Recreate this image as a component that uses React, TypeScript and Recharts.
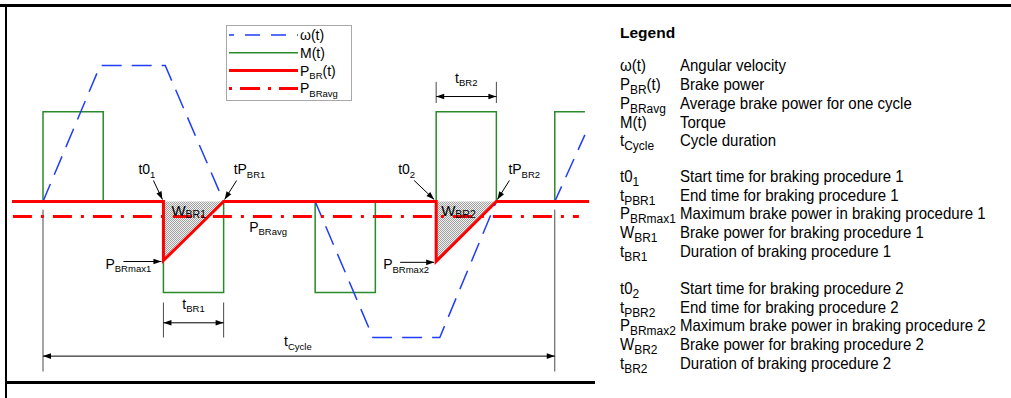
import React from 'react'
import { ComposedChart, Line, Area, XAxis, YAxis, ReferenceLine, ReferenceDot, Legend } from 'recharts'

// time axis: 0 = start of cycle, 85 = end of cycle (arbitrary units)
// value axis: 1 = peak angular velocity
const omega = [
  { t: -5.15, v: 0 }, { t: 0, v: 0 }, { t: 9.5, v: 1 }, { t: 20.3, v: 1 }, { t: 30, v: 0 },
  { t: 45.2, v: 0 }, { t: 54.8, v: -1 }, { t: 65.9, v: -1 }, { t: 75.3, v: 0 },
  { t: 85, v: 0 }, { t: 90, v: 0.49 },
]
const torque = [
  { t: -5.15, v: 0 }, { t: 0, v: 0 }, { t: 0, v: 0.66 }, { t: 10, v: 0.66 }, { t: 10, v: 0 },
  { t: 20, v: 0 }, { t: 20, v: -0.67 }, { t: 30, v: -0.67 }, { t: 30, v: 0 },
  { t: 45.2, v: 0 }, { t: 45.2, v: -0.67 }, { t: 55.2, v: -0.67 }, { t: 55.2, v: 0 },
  { t: 65.3, v: 0 }, { t: 65.3, v: 0.66 }, { t: 75.3, v: 0.66 }, { t: 75.3, v: 0 },
  { t: 85, v: 0 }, { t: 85, v: 0.66 }, { t: 90, v: 0.66 },
]
const brakePower = [
  { t: -5.15, v: 0 }, { t: 20, v: 0 }, { t: 20, v: -0.434 }, { t: 30, v: 0 },
  { t: 65.3, v: 0 }, { t: 65.3, v: -0.44 }, { t: 75.3, v: 0 }, { t: 90.7, v: 0 },
]
const brakeAvg = [{ t: -5, v: -0.11 }, { t: 89, v: -0.11 }]
const brakeWork1 = [{ t: 20, v: 0 }, { t: 20, v: -0.434 }, { t: 30, v: 0 }]
const brakeWork2 = [{ t: 65.3, v: 0 }, { t: 65.3, v: -0.44 }, { t: 75.3, v: 0 }]

const cycleStart = 0
const cycleEnd = 85
const brakeStart = [20, 65.3]
const brakeEnd = [30, 75.3]
const brakePeak = [-0.434, -0.44]
const avgLevel = -0.11

const FONT = 'Liberation Sans, Arial, Helvetica, sans-serif'

type LabelParts = { main: string; sub?: string; tail?: string }

const legendItems = [
  { label: { main: 'ω(t)' }, color: '#1f3cff', width: 1.5, dash: '15 11', offset: 10 },
  { label: { main: 'M(t)' }, color: '#2a8a2a', width: 1.5, dash: undefined, offset: 0 },
  { label: { main: 'P', sub: 'BR', tail: '(t)' }, color: '#ff0000', width: 3, dash: undefined, offset: 0 },
  { label: { main: 'P', sub: 'BRavg' }, color: '#ff0000', width: 3, dash: '20 8 3 8', offset: 28 },
]

const glossary: (LabelParts & { desc: string })[][] = [
  [
    { main: 'ω(t)', desc: 'Angular velocity' },
    { main: 'P', sub: 'BR', tail: '(t)', desc: 'Brake power' },
    { main: 'P', sub: 'BRavg', desc: 'Average brake power for one cycle' },
    { main: 'M(t)', desc: 'Torque' },
    { main: 't', sub: 'Cycle', desc: 'Cycle duration' },
  ],
  [
    { main: 't0', sub: '1', desc: 'Start time for braking procedure 1' },
    { main: 't', sub: 'PBR1', desc: 'End time for braking procedure 1' },
    { main: 'P', sub: 'BRmax1', desc: 'Maximum brake power in braking procedure 1' },
    { main: 'W', sub: 'BR1', desc: 'Brake power for braking procedure 1' },
    { main: 't', sub: 'BR1', desc: 'Duration of braking procedure 1' },
  ],
  [
    { main: 't0', sub: '2', desc: 'Start time for braking procedure 2' },
    { main: 't', sub: 'PBR2', desc: 'End time for braking procedure 2' },
    { main: 'P', sub: 'BRmax2', desc: 'Maximum brake power in braking procedure 2' },
    { main: 'W', sub: 'BR2', desc: 'Brake power for braking procedure 2' },
    { main: 't', sub: 'BR2', desc: 'Duration of braking procedure 2' },
  ],
]
const groupBaselines = [71.5, 182, 294]
const ROW = 18.7
const SQUEEZE = 0.9

const SubText = ({ x, y, parts, size = 14, subSize = 9.5, shift = 3.5, anchor = 'start', weight, sx = 1 }: any) => (
  <text x={x / sx} y={y} fontSize={size} fontFamily={FONT} textAnchor={anchor} fill="#000" fontWeight={weight}
    transform={sx !== 1 ? `scale(${sx},1)` : undefined}>
    {parts.main}
    {parts.sub && (
      <tspan fontSize={subSize} dy={shift}>
        {parts.sub}
      </tspan>
    )}
    {parts.tail && <tspan dy={-shift}>{parts.tail}</tspan>}
  </text>
)

function head(x1: number, y1: number, x2: number, y2: number) {
  const a = Math.atan2(y2 - y1, x2 - x1)
  const l = 8
  const w = 2.8
  const bx = x2 - l * Math.cos(a)
  const by = y2 - l * Math.sin(a)
  const px = -Math.sin(a) * w
  const py = Math.cos(a) * w
  return `${x2},${y2} ${bx + px},${by + py} ${bx - px},${by - py}`
}

// dimension line with arrow heads at both ends
const dimShape = (p: any) => (
  <g>
    <line x1={p.x1} y1={p.y1} x2={p.x2} y2={p.y2} stroke="#000" strokeWidth={1} />
    <polygon points={head(p.x1, p.y1, p.x2, p.y2)} fill="#000" />
    <polygon points={head(p.x2, p.y2, p.x1, p.y1)} fill="#000" />
  </g>
)

// label with an optional pointer arrow, offsets in px from the anchor point
const pointer = (parts: LabelParts, tx: number, ty: number, arrow?: number[], opts: any = {}) => (p: any) => (
  <g>
    {arrow && (
      <>
        <line x1={p.cx + arrow[0]} y1={p.cy + arrow[1]} x2={p.cx + arrow[2]} y2={p.cy + arrow[3]} stroke="#000" strokeWidth={1} />
        <polygon points={head(p.cx + arrow[0], p.cy + arrow[1], p.cx + arrow[2], p.cy + arrow[3])} fill="#000" />
      </>
    )}
    <SubText x={p.cx + tx} y={p.cy + ty} parts={parts} {...opts} />
  </g>
)

const renderLegend = () => (
  <div style={{ width: 126, height: 76, border: '1px solid #a8a8a8', background: '#fff', boxSizing: 'border-box' }}>
    <svg width={124} height={74}>
      {legendItems.map((item, i) => {
        const y = 9 + i * 17.8
        return (
          <g key={i}>
            <line x1={2} x2={71} y1={y} y2={y} stroke={item.color} strokeWidth={item.width}
              strokeDasharray={item.dash} strokeDashoffset={item.offset} />
            <SubText x={73} y={y + 5} parts={item.label} size={14} subSize={9.5} />
          </g>
        )
      })}
    </svg>
  </div>
)

const extStroke = { stroke: '#4a4a4a', strokeWidth: 1 }

export default function App() {
  return (
    <div style={{ position: 'absolute', left: 0, top: 0, width: 1011, height: 398, background: '#fff', overflow: 'hidden' }}>
      <svg width={0} height={0} style={{ position: 'absolute' }}>
        <defs>
          <pattern id="hatch" width={2} height={2} patternUnits="userSpaceOnUse">
            <rect width={2} height={2} fill="#f2f2f2" />
            <rect width={1} height={1} fill="#9e9e9e" />
            <rect x={1} y={1} width={1} height={1} fill="#9e9e9e" />
          </pattern>
        </defs>
      </svg>

      {/* frame */}
      <div style={{ position: 'absolute', left: 0, top: 4, width: 1011, height: 2.5, background: '#000' }} />
      <div style={{ position: 'absolute', left: 5, top: 4, width: 2, height: 394, background: '#000' }} />
      <div style={{ position: 'absolute', left: 5, top: 381, width: 590, height: 2.5, background: '#000' }} />

      <div style={{ position: 'absolute', left: 0, top: 0 }}>
        <ComposedChart width={600} height={398} margin={{ top: 22, right: 10, bottom: 17, left: 12 }}>
          <XAxis dataKey="t" type="number" domain={[-5.15, 90.85]} hide allowDataOverflow />
          <YAxis type="number" domain={[-1.32, 1.32]} hide allowDataOverflow />
          <Legend content={renderLegend} layout="horizontal" verticalAlign="middle" align="center"
            wrapperStyle={{ left: 226, top: 25, width: 126, height: 76 }} />

          <Area data={brakeWork1} dataKey="v" type="linear" baseValue={0} fill="url(#hatch)" fillOpacity={1}
            stroke="none" isAnimationActive={false} legendType="none" />
          <Area data={brakeWork2} dataKey="v" type="linear" baseValue={0} fill="url(#hatch)" fillOpacity={1}
            stroke="none" isAnimationActive={false} legendType="none" />

          {/* extension lines */}
          {[cycleStart, cycleEnd].map((t) => (
            <ReferenceLine key={'c' + t} segment={[{ x: t, y: -0.06 }, { x: t, y: -1.25 }]} {...extStroke} ifOverflow="visible" />
          ))}
          {[brakeStart[0], brakeEnd[0]].map((t) => (
            <ReferenceLine key={'b1' + t} segment={[{ x: t, y: -0.743 }, { x: t, y: -1.0 }]} {...extStroke} ifOverflow="visible" />
          ))}
          {[brakeStart[1], brakeEnd[1]].map((t) => (
            <ReferenceLine key={'b2' + t} segment={[{ x: t, y: 0.88 }, { x: t, y: 0.724 }]} {...extStroke} ifOverflow="visible" />
          ))}

          <Line data={torque} dataKey="v" type="linear" stroke="#2a8a2a" strokeWidth={1.5} dot={false} isAnimationActive={false} legendType="none" />
          <Line data={omega} dataKey="v" type="linear" stroke="#1f3cff" strokeWidth={1.5} strokeDasharray="20 10" dot={false} isAnimationActive={false} legendType="none" />
          <Line data={brakeAvg} dataKey="v" type="linear" stroke="#ff0000" strokeWidth={3} strokeDasharray="19 9 3 9" dot={false} isAnimationActive={false} legendType="none" />
          <Line data={brakePower} dataKey="v" type="linear" stroke="#ff0000" strokeWidth={3} dot={false} isAnimationActive={false} legendType="none" />

          {/* dimension lines */}
          <ReferenceLine segment={[{ x: brakeStart[0], y: -0.892 }, { x: brakeEnd[0], y: -0.892 }]} shape={dimShape} ifOverflow="visible" />
          <ReferenceLine segment={[{ x: brakeStart[1], y: 0.772 }, { x: brakeEnd[1], y: 0.772 }]} shape={dimShape} ifOverflow="visible" />
          <ReferenceLine segment={[{ x: cycleStart, y: -1.137 }, { x: cycleEnd, y: -1.137 }]} shape={dimShape} ifOverflow="visible" />

          {/* labels */}
          <ReferenceDot x={(brakeStart[0] + brakeEnd[0]) / 2} y={-0.892} r={0} ifOverflow="visible"
            shape={pointer({ main: 't', sub: 'BR1' }, 0, -14, undefined, { anchor: 'middle' })} />
          <ReferenceDot x={(brakeStart[1] + brakeEnd[1]) / 2} y={0.772} r={0} ifOverflow="visible"
            shape={pointer({ main: 't', sub: 'BR2' }, 0, -14, undefined, { anchor: 'middle' })} />
          <ReferenceDot x={(cycleStart + cycleEnd) / 2} y={-1.137} r={0} ifOverflow="visible"
            shape={pointer({ main: 't', sub: 'Cycle' }, -1, -10, undefined, { anchor: 'middle' })} />

          <ReferenceDot x={brakeStart[0]} y={0} r={0} ifOverflow="visible"
            shape={pointer({ main: 't0', sub: '1' }, -25, -27.5, [-10, -21, -1, -2])} />
          <ReferenceDot x={brakeEnd[0]} y={0} r={0} ifOverflow="visible"
            shape={pointer({ main: 'tP', sub: 'BR1' }, 10, -27.5, [13, -21, 1, -2])} />
          <ReferenceDot x={brakeStart[1]} y={0} r={0} ifOverflow="visible"
            shape={pointer({ main: 't0', sub: '2' }, -38, -27.5, [-22, -21, -2, -2])} />
          <ReferenceDot x={brakeEnd[1]} y={0} r={0} ifOverflow="visible"
            shape={pointer({ main: 'tP', sub: 'BR2' }, 12, -27.5, [13, -21, 1, -2])} />

          <ReferenceDot x={brakeStart[0]} y={0} r={0} ifOverflow="visible"
            shape={pointer({ main: 'W', sub: 'BR1' }, 8, 14.5, undefined, { size: 15, subSize: 10.5, shift: 2 })} />
          <ReferenceDot x={brakeStart[1]} y={0} r={0} ifOverflow="visible"
            shape={pointer({ main: 'W', sub: 'BR2' }, 5, 14.5, undefined, { size: 15, subSize: 10.5, shift: 2 })} />

          <ReferenceDot x={brakeEnd[0]} y={avgLevel} r={0} ifOverflow="visible"
            shape={pointer({ main: 'P', sub: 'BRavg' }, 25.5, 15.5)} />

          <ReferenceDot x={brakeStart[0]} y={brakePeak[0]} r={0} ifOverflow="visible"
            shape={pointer({ main: 'P', sub: 'BRmax1' }, -58, 8, [-40, 1, -2, 1])} />
          <ReferenceDot x={brakeStart[1]} y={brakePeak[1]} r={0} ifOverflow="visible"
            shape={pointer({ main: 'P', sub: 'BRmax2' }, -53, 8, [-36, 1, -2, 1])} />
        </ComposedChart>
      </div>

      {/* glossary */}
      <svg width={411} height={398} style={{ position: 'absolute', left: 600, top: 0 }}>
        <text x={20} y={38} fontSize={15.5} fontWeight="bold" fontFamily={FONT}>Legend</text>
        {glossary.map((group, g) =>
          group.map((row, i) => {
            const y = groupBaselines[g] + i * ROW
            return (
              <g key={g + '-' + i}>
                <SubText x={20} y={y} parts={row} size={16.7} subSize={13.3} shift={4} sx={SQUEEZE} />
                <text x={80 / SQUEEZE} y={y} fontSize={16.7} fontFamily={FONT} transform={`scale(${SQUEEZE},1)`}>
                  {row.desc}
                </text>
              </g>
            )
          }),
        )}
      </svg>
    </div>
  )
}
